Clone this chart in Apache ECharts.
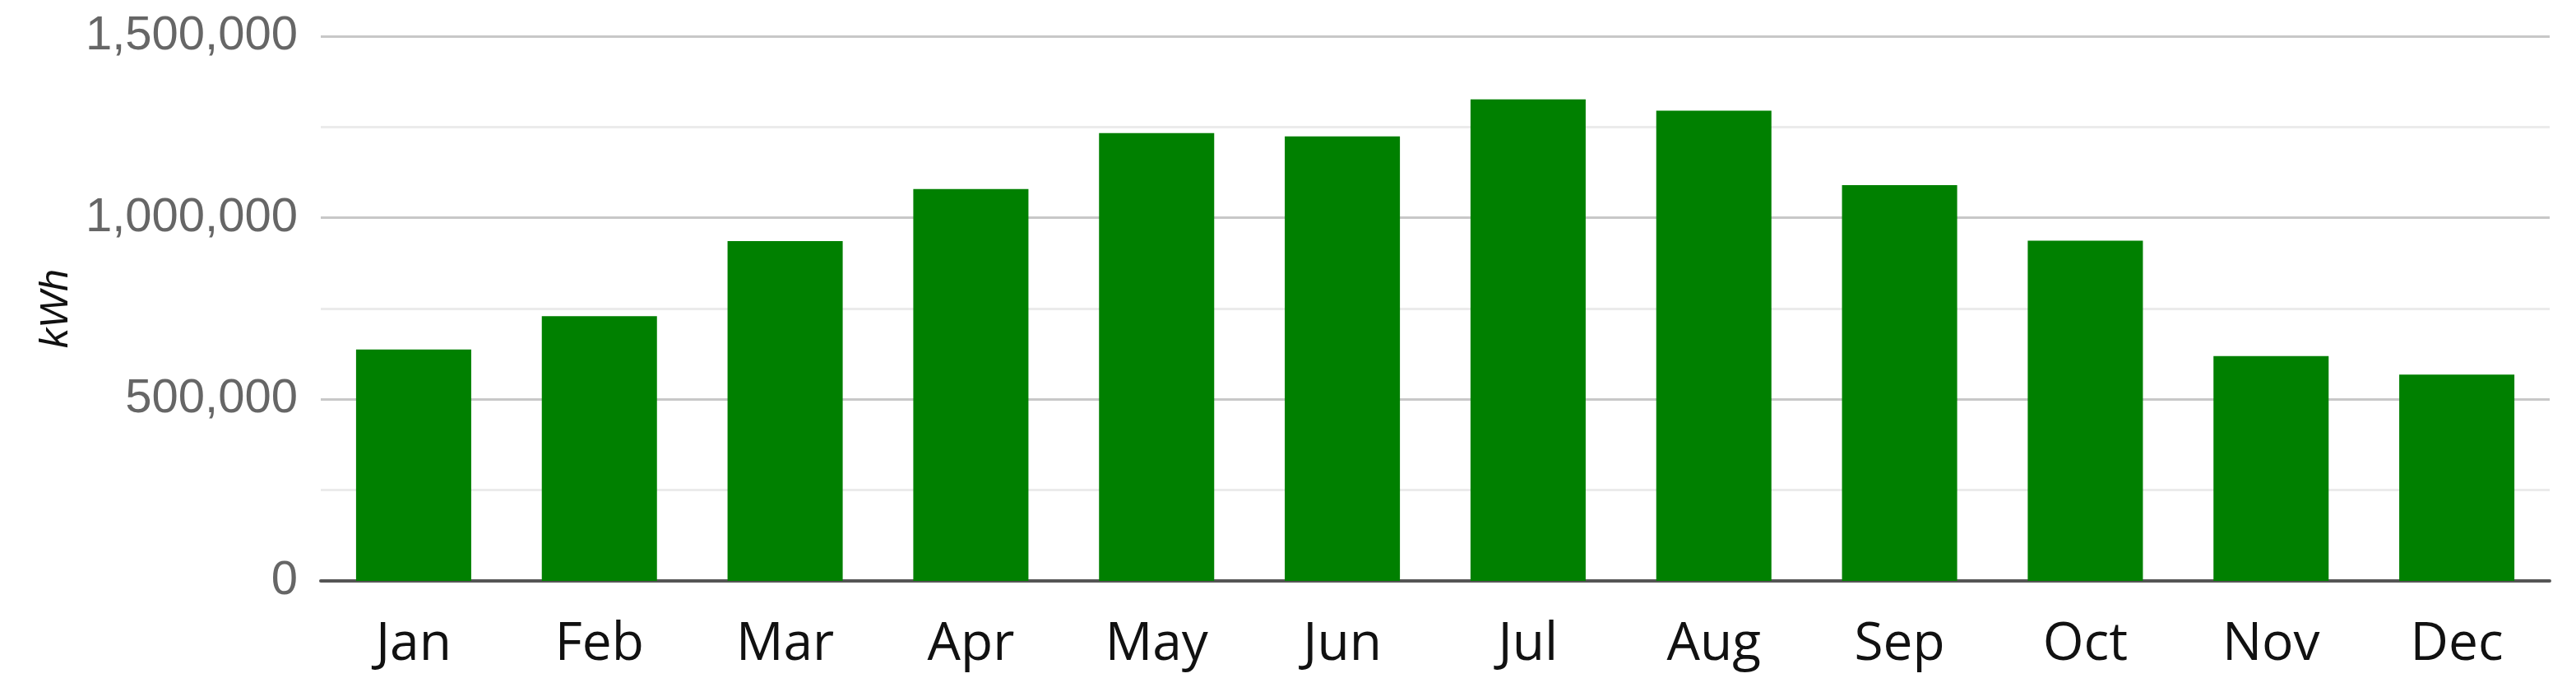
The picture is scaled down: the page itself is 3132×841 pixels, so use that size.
<!DOCTYPE html>
<html>
<head>
<meta charset="utf-8">
<title>Monthly kWh</title>
<script src="https://cdn.jsdelivr.net/npm/echarts@6/dist/echarts.min.js"></script>
<style>
  html, body { margin: 0; padding: 0; background: #fff; }
  #chart { width: 3132px; height: 841px; }
</style>
</head>
<body>
<div id="chart"></div>
<script>
// monthly energy
const months = ['Jan', 'Feb', 'Mar', 'Apr', 'May', 'Jun', 'Jul', 'Aug', 'Sep', 'Oct', 'Nov', 'Dec']
const energyKwh = [637000, 729000, 936000, 1079000, 1233000, 1224000, 1326000, 1295000, 1090000, 937000, 619000, 568000]
const yTicks = [0, 500000, 1000000, 1500000] // labelled ticks; grid lines every 250k

const chart = echarts.init(document.getElementById('chart'))

chart.setOption({
  animation: false,
  grid: {
    left: 390,
    right: 32,
    top: 44,
    bottom: 135,
    containLabel: false
  },
  xAxis: {
    type: 'category',
    data: months,
    axisTick: { show: false },
    axisLine: {
      show: true,
      lineStyle: { color: '#555555', width: 4 }
    },
    axisLabel: {
      color: '#111111',
      fontFamily: 'Open Sans',
      fontSize: 64,
      margin: 46
    }
  },
  yAxis: {
    type: 'value',
    min: 0,
    max: 1500000,
    interval: 250000,
    name: 'kWh',
    nameLocation: 'middle',
    nameRotate: 90,
    nameGap: 292,
    nameTextStyle: {
      color: '#111111',
      fontFamily: 'Liberation Sans',
      fontStyle: 'italic',
      fontSize: 48
    },
    axisLine: { show: false },
    axisTick: { show: false },
    axisLabel: {
      color: '#666666',
      fontFamily: 'Liberation Sans',
      fontSize: 58,
      margin: 28,
      formatter: function (v) {
        // only the 500k steps carry a label
        return yTicks.indexOf(v) >= 0 ? v.toLocaleString('en-US') : ''
      }
    },
    splitLine: {
      show: true,
      lineStyle: {
        color: ['#c8c8c8', '#ebebeb'],
        width: 3
      }
    }
  },
  series: [{
    name: 'kWh',
    type: 'bar',
    barWidth: '62%',
    data: energyKwh,
    itemStyle: { color: '#008000' }
  }]
})
</script>
</body>
</html>
